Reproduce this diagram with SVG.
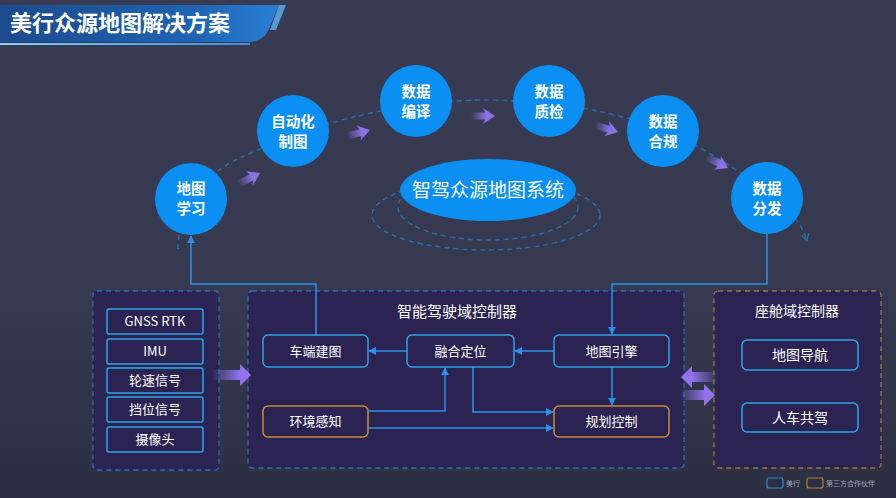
<svg xmlns="http://www.w3.org/2000/svg" width="896" height="498" viewBox="0 0 896 498">
  <defs>
    <linearGradient id="bg" x1="0" y1="0" x2="0" y2="1">
      <stop offset="0" stop-color="#383b52"/>
      <stop offset="0.6" stop-color="#363a50"/>
      <stop offset="1" stop-color="#2c2f42"/>
    </linearGradient>
    <linearGradient id="banner" x1="0" y1="0" x2="1" y2="0">
      <stop offset="0" stop-color="#1c4a8c"/>
      <stop offset="0.7" stop-color="#1f64b4"/>
      <stop offset="1" stop-color="#2a7fd4"/>
    </linearGradient>
    <linearGradient id="bline" x1="0" y1="0" x2="1" y2="0">
      <stop offset="0" stop-color="#7fd0ff"/>
      <stop offset="1" stop-color="#3a8fe0"/>
    </linearGradient>
    <linearGradient id="chevg" x1="0" y1="0" x2="1" y2="0">
      <stop offset="0" stop-color="#8a72e6" stop-opacity="0"/>
      <stop offset="0.65" stop-color="#8a72e6" stop-opacity="1"/>
      <stop offset="1" stop-color="#8a72e6" stop-opacity="1"/>
    </linearGradient>
    <linearGradient id="bigR" x1="0" y1="0" x2="1" y2="0">
      <stop offset="0" stop-color="#8e70ea" stop-opacity="0"/>
      <stop offset="0.7" stop-color="#8e70ea" stop-opacity="1"/>
      <stop offset="1" stop-color="#9677f0" stop-opacity="1"/>
    </linearGradient>
    <linearGradient id="bigL" x1="1" y1="0" x2="0" y2="0">
      <stop offset="0" stop-color="#8e70ea" stop-opacity="0"/>
      <stop offset="0.7" stop-color="#8e70ea" stop-opacity="1"/>
      <stop offset="1" stop-color="#9677f0" stop-opacity="1"/>
    </linearGradient>
    <path id="chev" d="M-24,-3.5 L-10,-3.5 L-12,-8 L0,0 L-12,8 L-10,3.5 L-24,3.5 Z" fill="url(#chevg)"/>
    <marker id="ah" viewBox="0 0 10 10" refX="9" refY="5" markerWidth="8" markerHeight="8" markerUnits="userSpaceOnUse" orient="auto">
      <path d="M0,0 L10,5 L0,10 Z" fill="#2a92ea"/>
    </marker>
    <marker id="dah" viewBox="0 0 10 10" refX="9" refY="5" markerWidth="9" markerHeight="9" markerUnits="userSpaceOnUse" orient="auto">
      <path d="M1,1 L9,5 L1,9" fill="none" stroke="#2d6aa6" stroke-width="1.5"/>
    </marker>
    <style>
      .cn { font-family: "Noto Sans CJK SC", "Liberation Sans", sans-serif; }
      .ct { font-size: 14.5px; font-weight: bold; fill: #ffffff; text-anchor: middle; }
      .circ { fill: #0b8ff2; }
      .ring { fill: none; stroke: #2d6aa6; stroke-width: 1.5; stroke-dasharray: 5 4; }
      .panelB { fill: #2b2452; stroke: #2f6fb2; stroke-width: 1.3; stroke-dasharray: 5 4; }
      .panelO { fill: #2b2452; stroke: #9a7646; stroke-width: 1.3; stroke-dasharray: 5 4; }
      .boxB { fill: #2b2452; stroke: #2fa3e6; stroke-width: 1.5; }
      .boxO { fill: #2b2452; stroke: #c98a3c; stroke-width: 1.5; }
      .bt { font-size: 13px; fill: #ffffff; text-anchor: middle; }
      .pt { font-size: 15px; fill: #ffffff; text-anchor: middle; }
      .conn { fill: none; stroke: #2a92ea; stroke-width: 1.5; }
      .lg { font-size: 7px; fill: #a0a4b4; }
    </style>
  </defs>

  <rect x="0" y="0" width="896" height="498" fill="url(#bg)"/>

  <!-- title banner -->
  <g id="title">
    <path d="M0,5 L279,5 L268,31 Q262,42 248,42 L0,42 Z" fill="url(#banner)"/>
    <path d="M279,5 L286,5 L276,30 L270,30 Z" fill="#5ab4f0" opacity="0.8"/>
    <rect x="0" y="43" width="250" height="2" fill="url(#bline)"/>
    <text x="10" y="31" class="cn" font-size="22" font-weight="bold" fill="#ffffff">美行众源地图解决方案</text>
  </g>

  <!-- dashed orbit -->
  <g id="orbit">
    <path class="ring" d="M178,249 C178,215 200,175 240,158 C300,130 380,102 480,100 C580,100 660,120 720,160 C770,190 800,215 807,241" marker-end="url(#dah)"/>
    <ellipse class="ring" cx="486" cy="215" rx="114" ry="35"/>
    <ellipse class="ring" cx="488" cy="207" rx="90" ry="33"/>
  </g>

  <!-- flow chevrons -->
  <g id="chevrons">
    <use href="#chev" transform="translate(260,173) rotate(-27)"/>
    <use href="#chev" transform="translate(370,130) rotate(-15)"/>
    <use href="#chev" transform="translate(495,116)"/>
    <use href="#chev" transform="translate(618,132) rotate(17)"/>
    <use href="#chev" transform="translate(728,168) rotate(27)"/>
  </g>

  <!-- panels -->
  <g id="p-sensors">
    <rect class="panelB" x="93" y="291" width="126" height="179" rx="4"/>
  </g>
  <g id="p-adas">
    <rect class="panelB" x="248" y="291" width="436" height="177" rx="4"/>
    <text class="cn pt" x="457" y="317">智能驾驶域控制器</text>
  </g>
  <g id="p-cockpit">
    <rect class="panelO" x="714" y="291" width="167" height="177" rx="4"/>
    <text class="cn" x="797" y="316" font-size="14" fill="#ffffff" text-anchor="middle">座舱域控制器</text>
  </g>

  <!-- connectors -->
  <g id="connectors">
    <path class="conn" d="M316,335 V284 H191 V236" marker-end="url(#ah)"/>
    <path class="conn" d="M767,234 V284 H612 V334" marker-end="url(#ah)"/>
    <path class="conn" d="M554,351 H515" marker-end="url(#ah)"/>
    <path class="conn" d="M407,351 H369" marker-end="url(#ah)"/>
    <path class="conn" d="M368,411 H445 V368" marker-end="url(#ah)"/>
    <path class="conn" d="M473,367 V412 H553" marker-end="url(#ah)"/>
    <path class="conn" d="M368,428 H553" marker-end="url(#ah)"/>
    <path class="conn" d="M612,367 V405" marker-end="url(#ah)"/>
  </g>

  <!-- circles -->
  <g id="n-learn">
    <circle class="circ" cx="191" cy="199" r="36"/>
    <text class="cn ct" x="191" y="194">地图</text>
    <text class="cn ct" x="191" y="214">学习</text>
  </g>
  <g id="n-automap">
    <circle class="circ" cx="293" cy="131" r="36"/>
    <text class="cn ct" x="293" y="127">自动化</text>
    <text class="cn ct" x="293" y="147">制图</text>
  </g>
  <g id="n-compile">
    <circle class="circ" cx="416" cy="101" r="36"/>
    <text class="cn ct" x="416" y="97">数据</text>
    <text class="cn ct" x="416" y="117">编译</text>
  </g>
  <g id="n-qc">
    <circle class="circ" cx="549" cy="101" r="36"/>
    <text class="cn ct" x="549" y="97">数据</text>
    <text class="cn ct" x="549" y="117">质检</text>
  </g>
  <g id="n-comply">
    <circle class="circ" cx="663" cy="131" r="36"/>
    <text class="cn ct" x="663" y="127">数据</text>
    <text class="cn ct" x="663" y="147">合规</text>
  </g>
  <g id="n-dist">
    <circle class="circ" cx="767" cy="198" r="36"/>
    <text class="cn ct" x="767" y="194">数据</text>
    <text class="cn ct" x="767" y="214">分发</text>
  </g>

  <g id="n-system">
    <ellipse cx="488" cy="190" rx="88" ry="31" fill="#0b8ff2"/>
    <text class="cn" x="488" y="197" font-size="19" fill="#ffffff" text-anchor="middle">智驾众源地图系统</text>
  </g>

  <!-- big arrows -->
  <g id="bigarrows">
    <path d="M212,370 L240,370 L240,364 L251,375 L240,386 L240,380 L212,380 Z" fill="url(#bigR)"/>
    <path d="M718,372 L692,372 L692,366 L681,377 L692,388 L692,382 L718,382 Z" fill="url(#bigL)"/>
    <path d="M680,390 L704,390 L704,384 L715,395 L704,406 L704,400 L680,400 Z" fill="url(#bigR)"/>
  </g>

  <!-- sensor nodes -->
  <g id="s-gnss"><rect class="boxB" x="107" y="309" width="96" height="25" rx="2"/><text class="cn bt" x="155" y="326">GNSS RTK</text></g>
  <g id="s-imu"><rect class="boxB" x="107" y="339" width="96" height="25" rx="2"/><text class="cn bt" x="155" y="356">IMU</text></g>
  <g id="s-wheel"><rect class="boxB" x="107" y="368" width="96" height="25" rx="2"/><text class="cn bt" x="155" y="385">轮速信号</text></g>
  <g id="s-gear"><rect class="boxB" x="107" y="397" width="96" height="25" rx="2"/><text class="cn bt" x="155" y="414">挡位信号</text></g>
  <g id="s-cam"><rect class="boxB" x="107" y="427" width="96" height="25" rx="2"/><text class="cn bt" x="155" y="444">摄像头</text></g>

  <!-- ADAS nodes -->
  <g id="a-vmap"><rect class="boxB" x="263" y="335" width="105" height="32" rx="5"/><text class="cn bt" x="315.5" y="356">车端建图</text></g>
  <g id="a-fusion"><rect class="boxB" x="407" y="335" width="107" height="32" rx="5"/><text class="cn bt" x="460.5" y="356">融合定位</text></g>
  <g id="a-engine"><rect class="boxB" x="554" y="335" width="115" height="32" rx="5"/><text class="cn bt" x="611.5" y="356">地图引擎</text></g>
  <g id="a-percep"><rect class="boxO" x="263" y="406" width="105" height="31" rx="5"/><text class="cn bt" x="315.5" y="426">环境感知</text></g>
  <g id="a-plan"><rect class="boxO" x="554" y="406" width="115" height="31" rx="5"/><text class="cn bt" x="611.5" y="426">规划控制</text></g>

  <!-- cockpit nodes -->
  <g id="c-nav"><rect class="boxB" x="742" y="340" width="116" height="30" rx="5"/><text class="cn" x="800" y="360" font-size="14" fill="#ffffff" text-anchor="middle">地图导航</text></g>
  <g id="c-codrive"><rect class="boxB" x="742" y="403" width="116" height="29" rx="5"/><text class="cn" x="800" y="423" font-size="14" fill="#ffffff" text-anchor="middle">人车共驾</text></g>

  <!-- legend -->
  <g id="legend">
    <rect x="767" y="478" width="16" height="10" rx="2" fill="#2a2f45" stroke="#2a8fc0" stroke-width="1.2"/>
    <text class="cn lg" x="786" y="486">美行</text>
    <rect x="807" y="478" width="16" height="10" rx="2" fill="#2a2f45" stroke="#b08030" stroke-width="1.2"/>
    <text class="cn lg" x="826" y="486">第三方合作伙伴</text>
  </g>
</svg>
